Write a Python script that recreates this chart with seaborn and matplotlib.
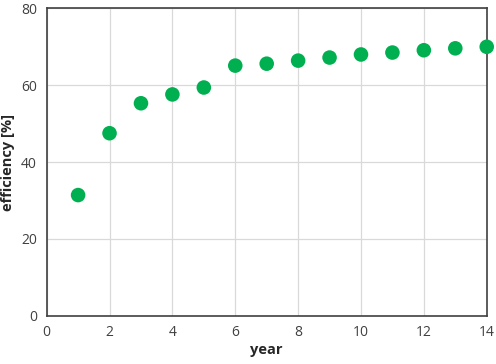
import numpy as np
import pandas as pd
import matplotlib
matplotlib.use("Agg")
import matplotlib.pyplot as plt
import seaborn as sns

years = [1, 2, 3, 4, 5, 6, 7, 8, 9, 10, 11, 12, 13, 14]
efficiency = [31.4, 47.5, 55.3, 57.6, 59.4, 65.1, 65.6, 66.4, 67.2, 68.0, 68.5, 69.1, 69.6, 70.0]
x_ticks = [0, 2, 4, 6, 8, 10, 12, 14]
y_ticks = [0, 20, 40, 60, 80]

sns.set_style("whitegrid")
plt.rcParams['font.family'] = ['Open Sans', 'DejaVu Sans']

data = pd.DataFrame({'year': years, 'efficiency': efficiency})

fig = plt.figure(figsize=(4.96, 3.64), dpi=100)
ax = fig.add_axes([0.0941, 0.1327, 0.8872, 0.8443])

sns.scatterplot(data=data, x='year', y='efficiency', ax=ax, s=110,
                color='#00B050', edgecolor='none', clip_on=False, zorder=3)

ax.set_xlim(0, 14)
ax.set_ylim(0, 80)
ax.set_xticks(x_ticks)
ax.set_yticks(y_ticks)
ax.grid(True, color='#D9D9D9', linewidth=0.9)
for side in ['left', 'bottom', 'right', 'top']:
    ax.spines[side].set_visible(True)
    ax.spines[side].set_color('#404040')
    ax.spines[side].set_linewidth(1.2)
ax.tick_params(axis='both', length=0, pad=7, labelsize=10, labelcolor='#404040')
ax.set_xlabel('year', fontsize=10.5, fontweight='bold', labelpad=2)
ax.set_ylabel('efficiency [%]', fontsize=10.5, fontweight='bold', labelpad=4)

fig.savefig('out.png', dpi=100)
